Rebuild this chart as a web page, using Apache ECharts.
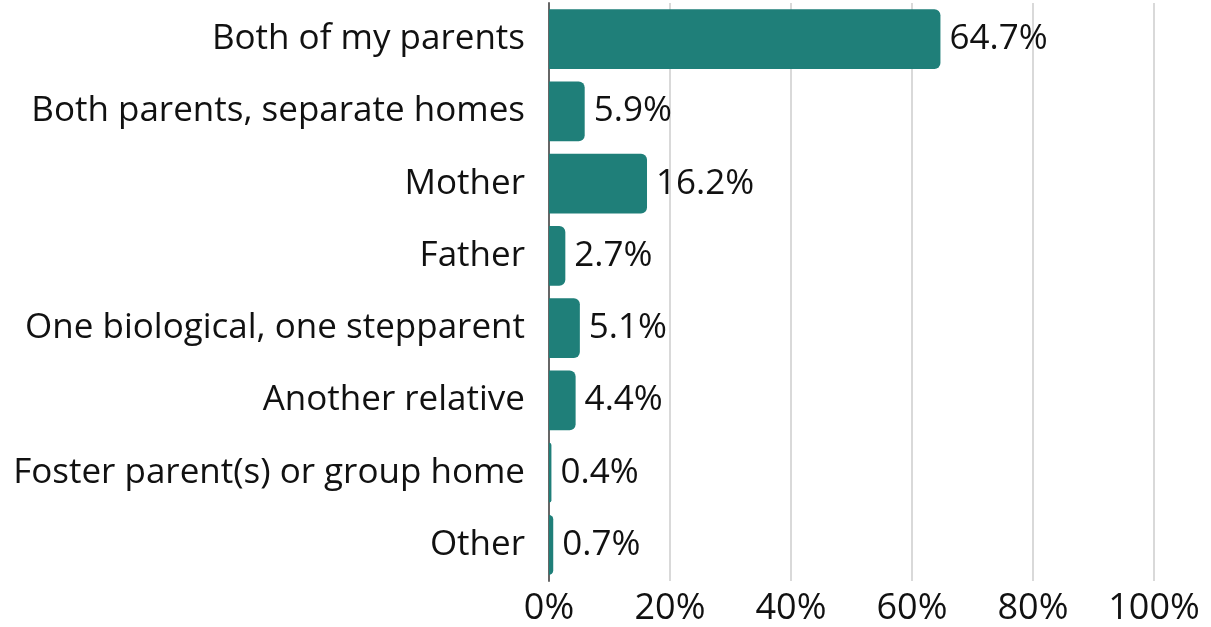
<!DOCTYPE html>
<html>
<head>
<meta charset="utf-8">
<style>
html,body{margin:0;padding:0;background:#fff;}
#chart{width:1211px;height:627px;}
</style>
<script src="https://cdn.jsdelivr.net/npm/echarts@6/dist/echarts.min.js"></script>
</head>
<body>
<div id="chart"></div>
<script>
const categories = [
  "Both of my parents",
  "Both parents, separate homes",
  "Mother",
  "Father",
  "One biological, one stepparent",
  "Another relative",
  "Foster parent(s) or group home",
  "Other"
];
const values = [64.7, 5.9, 16.2, 2.7, 5.1, 4.4, 0.4, 0.7];

const chart = echarts.init(document.getElementById('chart'));
const FONT = '"Open Sans", sans-serif';
chart.setOption({
  animation: false,
  grid: {left: 549, right: 57, top: 3, bottom: 44},
  xAxis: {
    type: 'value', min: 0, max: 100, interval: 20,
    axisLabel: {formatter: '{value}%', fontSize: 36, color: '#111', fontFamily: FONT, margin: 10},
    splitLine: {show: true, lineStyle: {color: '#cccccc', width: 1.5}},
    axisLine: {show: false}, axisTick: {show: false}
  },
  yAxis: {
    type: 'category', data: categories, inverse: true,
    axisLabel: {fontSize: 35, color: '#111', fontFamily: FONT, margin: 24},
    axisLine: {show: true, lineStyle: {color: '#666', width: 2}},
    axisTick: {show: false}
  },
  series: [{
    type: 'bar', data: values, barCategoryGap: '17%',
    itemStyle: {color: '#1f7f79', borderRadius: [0, 6, 6, 0]},
    label: {show: true, position: 'right', formatter: p => p.value.toFixed(1) + '%',
      fontSize: 35, color: '#111', fontFamily: FONT, distance: 9}
  }]
});
</script>
</body>
</html>
